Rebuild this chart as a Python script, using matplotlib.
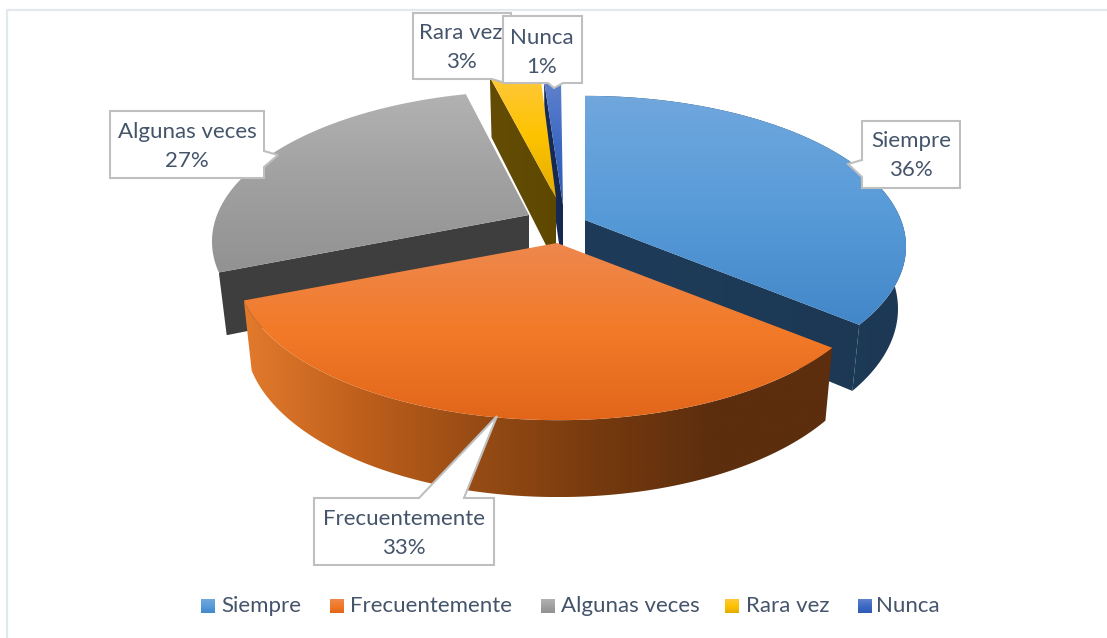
import numpy as np
import matplotlib
matplotlib.use("Agg")
import matplotlib.pyplot as plt
from matplotlib.patches import Polygon

categories = ["Siempre", "Frecuentemente", "Algunas veces", "Rara vez", "Nunca"]
values = [36, 33, 27, 3, 1]
value_labels = ["36%", "33%", "27%", "3%", "1%"]

plt.rcParams['font.family'] = ['Lato', 'DejaVu Sans']
W, H = 1107, 638
fig = plt.figure(figsize=(W / 100, H / 100), dpi=100)
ax = fig.add_axes([0, 0, 1, 1])

TXT = '#44546A'
FS = 16.0
R, A, K, SHR = 316.0, 146.0, 0.176, 0.975

apexes = {"Siempre": (585, 220), "Frecuentemente": (557, 243), "Algunas veces": (529, 215),
          "Rara vez": (556, 198), "Nunca": (563, 205)}
arc_shift = {"Siempre": 0, "Frecuentemente": 1, "Algunas veces": 4, "Rara vez": 1, "Nunca": -2}
depths = {"Siempre": 61, "Frecuentemente": 67, "Algunas veces": 60, "Rara vez": 67, "Nunca": 67}
top_cols = {"Siempre": [(112, 167, 221), (88, 155, 217), (66, 135, 200)],
            "Frecuentemente": [(238, 136, 78), (242, 122, 40), (226, 102, 26)],
            "Algunas veces": [(178, 178, 178), (160, 160, 160), (146, 146, 146)],
            "Rara vez": [(255, 200, 60), (253, 195, 0), (228, 172, 0)],
            "Nunca": [(96, 130, 205), (62, 105, 195), (48, 92, 180)]}
wall_cols = {"Siempre": [(34, 66, 98), (30, 60, 90), (28, 56, 84)],
             "Frecuentemente": [(226, 122, 44), (190, 95, 28), (150, 75, 20), (118, 58, 14), (92, 46, 14), (92, 46, 14)],
             "Algunas veces": [(72, 72, 72), (62, 62, 62), (62, 62, 62)],
             "Rara vez": [(110, 80, 20), (100, 76, 5), (94, 72, 0)],
             "Nunca": [(30, 55, 105), (24, 44, 88), (20, 40, 80)]}
# which radial cut face of each slice can be seen, and whether its rim can be seen
cut_face = {"Siempre": 1, "Algunas veces": 0, "Rara vez": 0, "Nunca": 0}
has_rim = {"Siempre": True, "Frecuentemente": True}


def gradient(poly_xy, stops, horizontal=False, z=1):
    xy = np.asarray(poly_xy, float)
    x0, x1 = xy[:, 0].min(), xy[:, 0].max()
    y0, y1 = xy[:, 1].min(), xy[:, 1].max()
    stops = np.asarray(stops, float) / 255
    t = np.linspace(0, 1, 256)
    s = np.linspace(0, 1, len(stops))
    line = np.stack([np.interp(t, s, stops[:, i]) for i in range(3)], -1)
    img = line[None, :, :] if horizontal else line[:, None, :]
    patch = Polygon(xy, closed=True, fc='none', ec='none', zorder=z)
    ax.add_patch(patch)
    im = ax.imshow(img, extent=(x0, x1, y1, y0), aspect='auto', zorder=z, interpolation='bilinear')
    im.set_clip_path(patch)


def top_pt(th, c, dx=0):
    sx, sy = np.sin(th), -np.cos(th)
    s = 1 / (1 - K * sy)
    return c[0] + dx + R * sx * s, c[1] + A * sy * s


def bot_pt(th, c, dx, depth):
    sx, sy = np.sin(th), -np.cos(th)
    s = 1 / (1 - K * sy)
    return c[0] + dx + SHR * R * sx * s, c[1] + SHR * A * sy * s + depth * s


total = sum(values)
edges = np.concatenate([[0], np.cumsum(values)]) / total * 2 * np.pi
spans = {c: (edges[i], edges[i + 1]) for i, c in enumerate(categories)}

order = ["Nunca", "Rara vez", "Algunas veces", "Siempre", "Frecuentemente"]
z = 2
for name in order:
    t0, t1 = spans[name]
    c = apexes[name]
    dx = arc_shift[name]
    d = depths[name]
    th = np.linspace(t0, t1, 160)
    top = [top_pt(t, c, dx) for t in th]
    bot = [bot_pt(t, c, dx, d) for t in th]
    ap_b = (c[0], c[1] + d)
    if has_rim.get(name):
        gradient(top + bot[::-1], wall_cols[name], horizontal=True, z=z); z += 1
    if name in cut_face:
        i = -1 if cut_face[name] else 0
        gradient([c, top[i], bot[i], ap_b], wall_cols[name][-2:], horizontal=True, z=z); z += 1
    gradient([c] + top, top_cols[name], z=z); z += 1

# chart border
ax.plot([6.5, 6.5, 1107], [638, 10, 10], color='#E3E8EF', lw=1.6, zorder=1)

# data-label callouts
callouts = {
    "Rara vez": ([(413, 13), (511, 13), (511, 83), (505, 83), (492, 79), (413, 79)], (461, 33)),
    "Nunca": ([(503, 16), (582, 16), (582, 83), (563, 83), (554, 88), (548, 83), (503, 83)], (542, 38)),
    "Algunas veces": ([(110, 111), (264, 111), (264, 151), (278, 155), (264, 167), (264, 178), (110, 178)], (187, 132)),
    "Siempre": ([(862, 121), (960, 121), (960, 188), (862, 188), (862, 177), (848, 164), (862, 160)], (911, 141)),
    "Frecuentemente": ([(314, 498), (419, 498), (497, 416), (464, 498), (494, 498), (494, 565), (314, 565)], (404, 519)),
}
for name, lab in zip(categories, value_labels):
    pts, (tx, ty) = callouts[name]
    ax.add_patch(Polygon(pts, closed=True, fc='white', ec='#BFBFBF', lw=1.5, zorder=z, joinstyle='miter'))
    z += 1
    ax.text(tx, ty, name, ha='center', va='center', fontsize=FS, color=TXT, zorder=z)
    ax.text(tx, ty + 29, lab, ha='center', va='center', fontsize=FS, color=TXT, zorder=z)
    z += 1

# legend
sq_x = [201, 330, 541, 725, 858]
tx_x = [221, 350, 561, 746, 876]
for name, sx, tx in zip(categories, sq_x, tx_x):
    gradient([(sx, 599), (sx + 14, 599), (sx + 14, 613), (sx, 613)], top_cols[name], z=z)
    z += 1
    ax.text(tx, 606, name, ha='left', va='center', fontsize=FS, color=TXT, zorder=z)

ax.set_xlim(0, W)
ax.set_ylim(H, 0)
ax.axis('off')
fig.savefig('out.png', dpi=100, facecolor='white')
